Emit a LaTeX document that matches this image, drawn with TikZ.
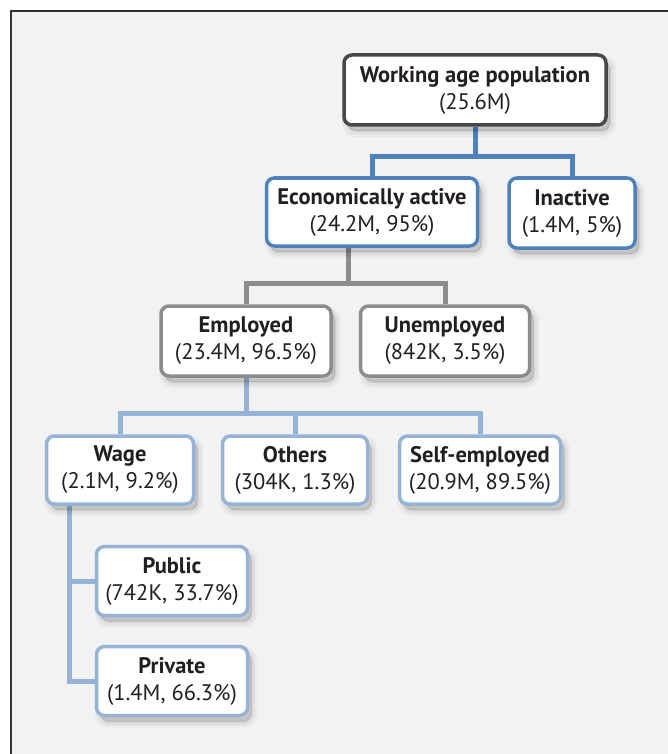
\documentclass[tikz,border=0pt]{standalone}
\usepackage{fontspec}
\setmainfont{PT Sans}
\usetikzlibrary{shadows,calc}
\definecolor{framebg}{HTML}{F2F2F2}
\definecolor{frameline}{HTML}{333333}
\definecolor{darkb}{HTML}{474747}
\definecolor{blueb}{HTML}{4F81BD}
\definecolor{greyb}{HTML}{8C8C8C}
\definecolor{lblueb}{HTML}{95B3D7}
\definecolor{txt}{HTML}{231F20}
\pgfdeclarelayer{framelayer}
\pgfdeclarelayer{connlayer}
\pgfsetlayers{framelayer,connlayer,main}
\tikzset{
  softshadow/.style={
    general shadow={fill=black, draw=black, line width=12pt, opacity=0.03, shadow xshift=4pt, shadow yshift=-6pt},
    general shadow={fill=black, draw=black, line width=7pt, opacity=0.04, shadow xshift=4pt, shadow yshift=-6pt},
    general shadow={fill=black, draw=black, line width=2pt, opacity=0.06, shadow xshift=4pt, shadow yshift=-6pt}},
  box/.style={rectangle, rounded corners=8pt, line width=3.5pt, fill=white,
    align=center, text=txt, inner sep=0pt,
    font=\fontsize{22.5}{27}\selectfont, softshadow},
  darkbox/.style={box, draw=darkb},
  bluebox/.style={box, draw=blueb},
  greybox/.style={box, draw=greyb},
  lbluebox/.style={box, draw=lblueb},
  conn/.style={line width=5pt, line join=miter, line cap=butt},
}
\newcommand{\hd}[1]{\textbf{#1}}
\begin{document}
\begin{tikzpicture}[x=1pt,y=-1pt]
\useasboundingbox (0,0) rectangle (668,754);
\begin{pgfonlayer}{framelayer}
  \fill[framebg] (11,11) rectangle (668,754);
  \draw[frameline, line width=1.2pt] (11,754) -- (11,11) -- (668,11);
\end{pgfonlayer}

\node[darkbox, minimum width=262pt, minimum height=70pt] (top) at (475,90) {\hd{Working age population}\\(25.6M)};
\node[bluebox, minimum width=211pt, minimum height=68pt] (econ) at (372,212) {\hd{Economically active}\\(24.2M, 95\%)};
\node[bluebox, minimum width=126pt, minimum height=70pt] (inact) at (572,213) {\hd{Inactive}\\(1.4M, 5\%)};
\node[greybox, minimum width=170pt, minimum height=70pt] (emp) at (246,341) {\hd{Employed}\\(23.4M, 96.5\%)};
\node[greybox, minimum width=169pt, minimum height=70pt] (unemp) at (445,341) {\hd{Unemployed}\\(842K, 3.5\%)};
\node[lbluebox, minimum width=147pt, minimum height=68pt] (wage) at (120,470) {\hd{Wage}\\(2.1M, 9.2\%)};
\node[lbluebox, minimum width=145pt, minimum height=68pt] (others) at (295,470) {\hd{Others}\\(304K, 1.3\%)};
\node[lbluebox, minimum width=161pt, minimum height=68pt] (self) at (480,470) {\hd{Self-employed}\\(20.9M, 89.5\%)};
\node[lbluebox, minimum width=151pt, minimum height=69pt] (public) at (172,581) {\hd{Public}\\(742K, 33.7\%)};
\node[lbluebox, minimum width=151pt, minimum height=69pt] (private) at (172,681) {\hd{Private}\\(1.4M, 66.3\%)};

\coordinate (bar1) at (0,157);
\coordinate (bar2) at (0,283);
\coordinate (bar3) at (0,413);
\coordinate (stem2) at ([xshift=-24pt]econ.south);
\coordinate (stem4) at ([xshift=-51pt]wage.south);

\begin{pgfonlayer}{connlayer}
  \draw[conn, blueb] (top.south) -- (top.south |- bar1);
  \draw[conn, blueb] (econ.north) -- (econ.north |- bar1) -- (inact.north |- bar1) -- (inact.north);
  \draw[conn, greyb] (stem2) -- (stem2 |- bar2);
  \draw[conn, greyb] (emp.north) -- (emp.north |- bar2) -- (unemp.north |- bar2) -- (unemp.north);
  \draw[conn, lblueb] (emp.south) -- (emp.south |- bar3);
  \draw[conn, lblueb] (wage.north) -- (wage.north |- bar3) -- (self.north |- bar3) -- (self.north);
  \draw[conn, lblueb] (others.north) -- (others.north |- bar3);
  \draw[conn, lblueb] (stem4) |- (private.west);
  \draw[conn, lblueb] (stem4 |- public.west) -- (public.west);
\end{pgfonlayer}
\end{tikzpicture}
\end{document}
